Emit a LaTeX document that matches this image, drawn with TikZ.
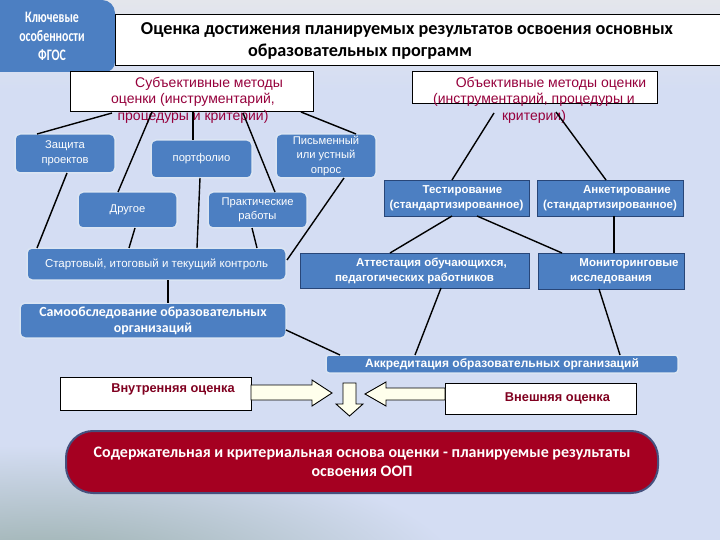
\documentclass[tikz,border=0pt]{standalone}
\usepackage{fontspec}
\setmainfont{Liberation Sans}
\newfontfamily\calfont{Carlito}
\newfontfamily\calnarrow[FakeStretch=0.74]{Carlito}
\usetikzlibrary{calc}
\definecolor{bgc}{RGB}{212,221,243}
\definecolor{topc}{RGB}{228,230,236}
\definecolor{greyg}{RGB}{150,172,168}
\definecolor{blueF}{RGB}{76,127,194}
\definecolor{darkB}{RGB}{40,70,120}
\definecolor{maroon}{RGB}{150,0,60}
\definecolor{dred}{RGB}{128,0,32}
\definecolor{redF}{RGB}{165,0,33}
\definecolor{redB}{RGB}{70,80,125}
\definecolor{arrF}{RGB}{255,255,236}
\tikzset{
  rbox/.style={rounded corners=5pt, fill=blueF, draw=white!80!blueF, line width=1.5pt,
    text=white, align=center, inner sep=0pt, outer sep=0pt, anchor=north west,
    font=\fontsize{11.2}{14.5}\selectfont},
  sbox/.style={fill=blueF, draw=darkB, line width=0.9pt, text=white, align=center,
    inner sep=0pt, outer sep=0pt, anchor=north west, font=\bfseries\fontsize{11.5}{15}\selectfont},
  wbox/.style={fill=white, draw=black, line width=0.9pt, inner sep=0pt, outer sep=0pt,
    anchor=north west},
  conn/.style={line width=1.4pt, black},
  barrow/.style={fill=arrF, draw=black, line width=0.9pt, line join=miter},
  mtext/.style={text=maroon, align=center, inner sep=0pt, font=\fontsize{14}{16.5}\selectfont}
}
\begin{document}
\begin{tikzpicture}[x=1pt,y=-1pt]
\useasboundingbox (0,0) rectangle (720,540);
\clip (0,0) rectangle (720,540);
% background
\fill[bgc] (0,0) rectangle (720,540);
\shade[top color=topc, bottom color=bgc] (0,0) rectangle (720,90);
\shade[inner color=greyg, outer color=bgc] (40,575) ellipse [x radius=420, y radius=130];

% top-left tab
\fill[blueF] (-10,0) -- (102,0) to[out=0,in=90] (115,13) -- (115,62) to[out=-90,in=0] (105,72) -- (-10,72) -- cycle;
\node[text=white, align=center, font=\calnarrow\bfseries\fontsize{16}{19}\selectfont] (tab) at (52,36) {Ключевые\\особенности\\ФГОС};

% title
\node[wbox, minimum width=605pt, minimum height=51pt] (title) at (115,14) {};
\node[font=\calfont\bfseries\fontsize{18.2}{20}\selectfont, inner sep=0pt] (title1) at (407,30) {Оценка достижения  планируемых результатов освоения основных};
\node[font=\calfont\bfseries\fontsize{18.2}{20}\selectfont, inner sep=0pt] (title2) at (360,52) {образовательных программ};

% method boxes
\node[wbox, minimum width=243pt, minimum height=40pt] (subj) at (70,71) {};
\node[mtext] (subjT) at (193,100) {\hspace*{32pt}Субъективные методы\\оценки (инструментарий,\\процедуры и критерии)};
\node[wbox, minimum width=245pt, minimum height=32pt] (obj) at (412,71) {};
\node[mtext] (objT) at (534,100) {\hspace*{34pt}Объективные методы оценки\\(инструментарий, процедуры и\\критерии)};

% rounded blue boxes
\node[rbox, minimum width=100pt, minimum height=39pt] (zash) at (15,134) {Защита\\проектов};
\node[rbox, minimum width=101pt, minimum height=38pt] (port) at (151,140) {портфолио};
\node[rbox, minimum width=100pt, minimum height=44pt] (pism) at (276,134) {Письменный\\или устный\\опрос};
\node[rbox, minimum width=99pt, minimum height=36pt] (drug) at (78,192) {Другое};
\node[rbox, minimum width=99pt, minimum height=36pt] (prak) at (208,192) {Практические\\работы};
\node[rbox, minimum width=259pt, minimum height=32pt, font=\fontsize{11.5}{14}\selectfont] (start) at (27,248) {Стартовый,  итоговый и текущий контроль};
\node[rbox, minimum width=266pt, minimum height=35pt, font=\calfont\bfseries\fontsize{13.9}{16}\selectfont] (samo) at (20,303) {Самообследование образовательных\\организаций};
\node[rbox, rounded corners=3pt, minimum width=352pt, minimum height=18pt, font=\bfseries\fontsize{12}{13}\selectfont] (akk) at (326,355) {Аккредитация образовательных организаций};

% square blue boxes
\node[sbox, minimum width=145pt, minimum height=36pt] (test) at (384,180) {\hspace*{12pt}Тестирование\\(стандартизированное)};
\node[sbox, minimum width=146pt, minimum height=36pt] (anket) at (537,180) {\hspace*{34pt}Анкетирование\\(стандартизированное)};
\node[sbox, minimum width=229pt, minimum height=35pt] (attest) at (300,253) {\hspace*{34pt}Аттестация обучающихся,\\педагогических работников};
\node[sbox, minimum width=146pt, minimum height=36pt] (monit) at (538,253) {\hspace*{36pt}Мониторинговые\\исследования};

% connectors
\draw[conn] ($(subj.south west)+(42,2)$) -- ($(zash.north west)+(22,0)$);
\draw[conn] ($(subj.south west)+(82,1)$) -- ($(drug.north west)+(40,0)$);
\draw[conn] ($(subj.south west)+(123,0)$) -- ($(port.north west)+(42,0)$);
\draw[conn] ($(subj.south west)+(173,2)$) -- ($(prak.north west)+(67,0)$);
\draw[conn] ($(subj.south west)+(231,1)$) -- ($(pism.north west)+(80,0)$);
\draw[conn] ($(obj.south west)+(82,10)$) -- ($(test.north west)+(68,0)$);
\draw[conn] ($(obj.south west)+(144,9)$) -- ($(anket.north west)+(69,0)$);
\draw[conn] ($(zash.south west)+(52,0)$) -- ($(start.north west)+(10,0)$);
\draw[conn] ($(drug.south west)+(57,0)$) -- ($(start.north west)+(102,0)$);
\draw[conn] ($(port.south west)+(49,0)$) -- ($(start.north west)+(170,0)$);
\draw[conn] ($(prak.south west)+(44,0)$) -- ($(start.north west)+(230,0)$);
\draw[conn] ($(pism.south west)+(68,0)$) -- ($(start.north east)+(1,12)$);
\draw[conn] ($(test.south west)+(68,0)$) -- ($(attest.north west)+(90,0)$);
\draw[conn] ($(test.south west)+(93,0)$) -- ($(monit.north west)+(24,0)$);
\draw[conn] ($(anket.south west)+(77,0)$) -- ($(monit.north west)+(76,0)$);
\draw[conn] ($(start.south west)+(141,0)$) -- ($(samo.north west)+(148,0)$);
\draw[conn] ($(samo.north east)+(0,27)$) -- ($(akk.north west)+(14,0)$);
\draw[conn] ($(attest.south west)+(141,0)$) -- ($(akk.north west)+(89,0)$);
\draw[conn] ($(monit.south west)+(61,0)$) -- ($(akk.north west)+(294,0)$);

% internal / external
\node[wbox, minimum width=191pt, minimum height=33pt] (inner) at (60,377) {};
\node[text=dred, font=\bfseries\fontsize{12.8}{14}\selectfont, inner sep=0pt] (innerT) at (173,389) {Внутренняя оценка};
\node[wbox, minimum width=191pt, minimum height=31pt, text=dred, font=\bfseries\fontsize{12.8}{14}\selectfont] (outer) at (445,383) {\hspace*{34pt}Внешняя оценка};

% block arrows
\draw[barrow] (inner.east |- 0,385) -- (312,385) -- (312,380) -- (332,393) -- (312,406) -- (312,400) -- (inner.east |- 0,400) -- cycle;
\draw[barrow] (outer.west |- 0,388) -- (386,388) -- (386,382) -- (365,394) -- (386,406) -- (386,400) -- (outer.west |- 0,400) -- cycle;
\draw[barrow] (343,383) -- (356,383) -- (356,404) -- (363,404) -- (349.5,416) -- (336,404) -- (343,404) -- cycle;

% result
\node[fill=redF, draw=redB, line width=2pt, rounded corners=27pt, minimum width=592pt, minimum height=62pt,
  anchor=north west, inner sep=0pt, text=white, align=center,
  font=\calfont\bfseries\fontsize{16}{19}\selectfont] (res) at (65,430)
  {Содержательная и критериальная  основа оценки  - планируемые результаты\\освоения ООП};
\end{tikzpicture}
\end{document}
